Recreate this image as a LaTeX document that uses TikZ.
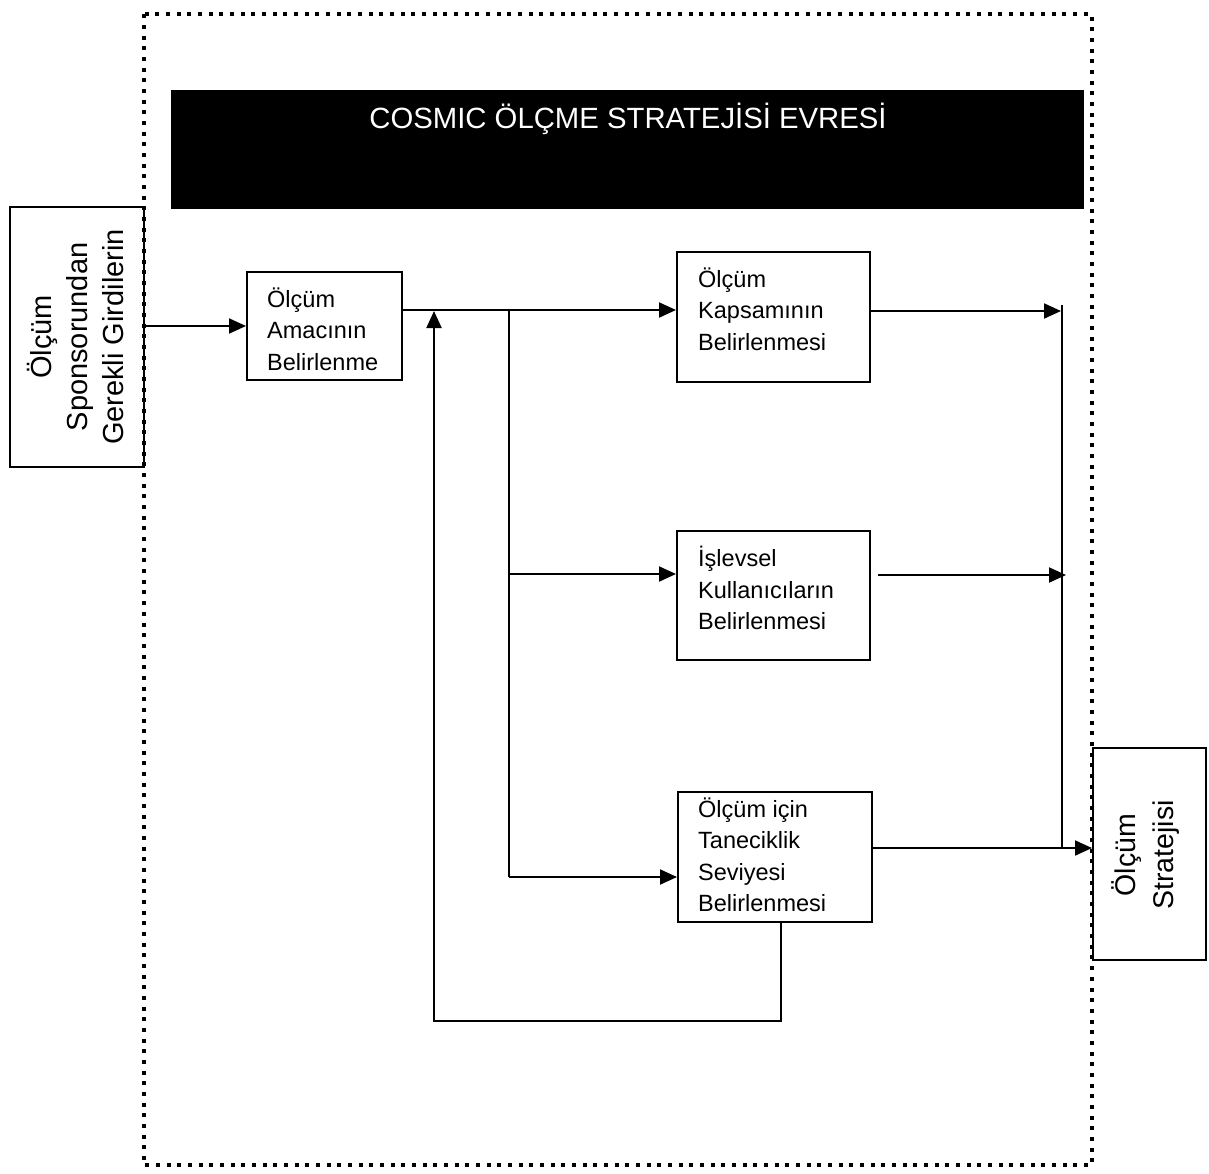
\documentclass[tikz,border=0pt]{standalone}
\usepackage{fontspec}
\setmainfont{Liberation Sans}
\usetikzlibrary{arrows.meta}
\begin{document}
\begin{tikzpicture}[x=1pt,y=-1pt,
  box/.style={draw,line width=2pt,rectangle,inner sep=0pt},
  boxtext/.style={anchor=west,align=left,inner sep=0pt,font=\fontsize{23.5}{31.5}\selectfont},
  sidetext/.style={rotate=90,align=center,inner sep=0pt,font=\fontsize{29}{36}\selectfont},
  link/.style={line width=2pt},
  flow/.style={line width=2pt,-{Triangle[length=17pt,width=15pt]}},
  phase/.style={line width=4pt,dash pattern=on 4pt off 6.67pt}
]
\useasboundingbox (0,0) rectangle (1209,1173);

% phase boundary
\draw[phase] (143.5,14.3) rectangle (1092,1165);

% phase title bar
\node[fill=black,inner sep=0pt,minimum width=913pt,minimum height=119pt] (title) at (627.5,149.5) {};
\node[anchor=base,text=white,inner sep=0pt,font=\fontsize{29.3}{34}\selectfont] (title-t) at (628,128)
  {COSMIC ÖLÇME STRATEJİSİ EVRESİ};

% input and output
\node[box,minimum width=134pt,minimum height=260pt] (input) at (77,337) {};
\node[sidetext] (input-t) at (76,337) {Ölçüm\\Sponsorundan\\Gerekli Girdilerin};
\node[box,minimum width=113pt,minimum height=212pt] (out) at (1149.5,854) {};
\node[sidetext,font=\fontsize{28.5}{38}\selectfont] (out-t) at (1146,855) {Ölçüm\\Stratejisi};

% steps
\node[box,minimum width=155pt,minimum height=108pt] (amac) at (324.5,326) {};
\node[boxtext] (amac-t) at (267,329) {Ölçüm\\Amacının\\Belirlenme};
\node[box,minimum width=193pt,minimum height=130pt] (kaps) at (773.5,317) {};
\node[boxtext] (kaps-t) at (698,309) {Ölçüm\\Kapsamının\\Belirlenmesi};
\node[box,minimum width=193pt,minimum height=129pt] (isl) at (773.5,595.5) {};
\node[boxtext] (isl-t) at (698,588) {İşlevsel\\Kullanıcıların\\Belirlenmesi};
\node[box,minimum width=194pt,minimum height=130pt] (tane) at (775,857) {};
\node[boxtext] (tane-t) at (698,855) {Ölçüm için\\Taneciklik\\Seviyesi\\Belirlenmesi};

% branch points
\coordinate (j1) at (509,310);
\coordinate (j2) at (509,574);
\coordinate (j3) at (509,877);
\coordinate (fbr) at (781,1021);
\coordinate (fbl) at (434,1021);
\coordinate (fbt) at (434,311);
\coordinate (c0) at (1062,305);
\coordinate (c1) at (1061,311);
\coordinate (c2) at (1066,575);
\coordinate (c3) at (1062,848);

% input flow
\draw[flow] (input.east |- amac.west) -- (amac.west);
\draw[link] (amac.east |- j1) -- (j1) -- (j3);
\draw[flow] (j1) -- (kaps.west |- j1);
\draw[flow] (j2) -- (isl.west |- j2);
\draw[flow] (j3) -- (tane.west |- j3);

% feedback loop
\draw[flow] (tane.south -| fbr) -- (fbr) -- (fbl) -- (fbt);

% collected outputs
\draw[flow] (kaps.east |- c1) -- (c1);
\draw[flow] ([xshift=7pt]isl.east |- c2) -- (c2);
\draw[flow] (tane.east |- c3) -- (out.west |- c3);
\draw[link] (c0) -- (c3);
\end{tikzpicture}
\end{document}
